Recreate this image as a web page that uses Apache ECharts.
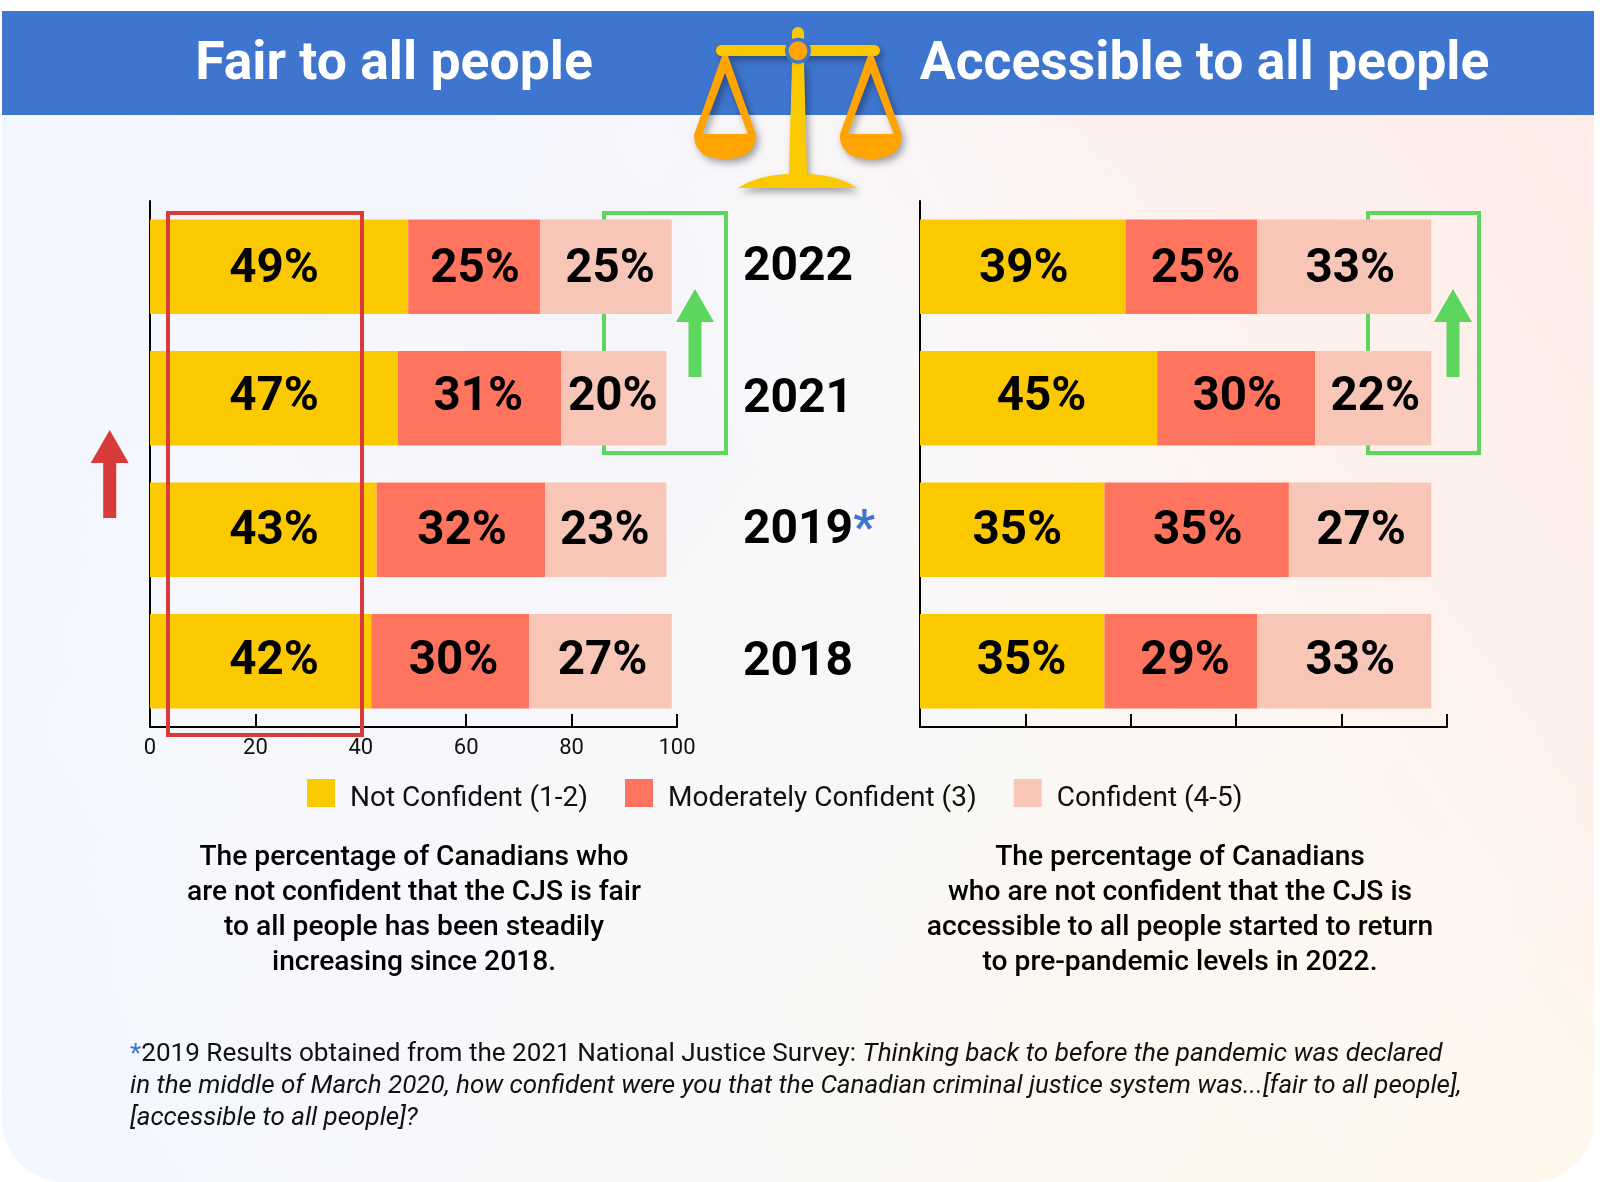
<!DOCTYPE html>
<html><head><meta charset="utf-8">
<style>html,body{margin:0;padding:0;background:#fff}#c{width:1610px;height:1182px}</style>
<script src="https://cdn.jsdelivr.net/npm/echarts@6/dist/echarts.min.js"></script></head>
<body><div id="c"></div>
<script>
const years = ['2022','2021','2019','2018'];
const seriesNames = ['Not Confident (1-2)','Moderately Confident (3)','Confident (4-5)'];
const colors = ['#FBC900','#FF745F','#F8C6B7'];
const fairNot = [49,47,43,42];
const fairMod = [25,31,32,30];
const fairConf = [25,20,23,27];
const accessNot = [39,45,35,35];
const accessMod = [25,30,35,29];
const accessConf = [33,22,27,33];
const titleLeft = 'Fair to all people';
const titleRight = 'Accessible to all people';
const noteLeft = ['The percentage of Canadians who','are not confident that the CJS is fair','to all people has been steadily','increasing since 2018.'];
const noteRight = ['The percentage of Canadians','who are not confident that the CJS is','accessible to all people started to return','to pre-pandemic levels in 2022.'];
// small hand placement of the value labels, which are not quite centred in the original
const rowNudgeY = [3,0,2,1];
const nudgeFairNot = [0,0,0,0];
const nudgeFairMod = [1,-1,1,3];
const nudgeFairConf = [4,-1,-1,2];
const nudgeAccessNot = [1,3,5,9];
const nudgeAccessMod = [4,1,1,4];
const nudgeAccessConf = [6,2,1,6];
const F = 'Roboto';
const chart = echarts.init(document.getElementById('c'));
function xAxis(i,showLabel){return {gridIndex:i,type:'value',min:0,max:100,interval:20,
  axisLine:{show:true,lineStyle:{color:'#000',width:2}},
  axisTick:{show:true,inside:true,length:13,lineStyle:{color:'#000',width:2}},
  splitLine:{show:false},
  axisLabel:{show:showLabel,color:'#111',fontFamily:F,fontSize:22,margin:10,showMinLabel:true,showMaxLabel:true}};}
function yAxis(i,extra){return Object.assign({gridIndex:i,type:'category',inverse:true,data:years,
  axisLine:{show:true,onZero:false,lineStyle:{color:'#000',width:2}},axisTick:{show:false}},extra);}
function bar(name,idx,values,nudge,ci,label){return {name,type:'bar',stack:'s'+idx,xAxisIndex:idx,yAxisIndex:idx,
  data:values.map((v,i)=>({value:v,label:{offset:[nudge[i]*1.03,rowNudgeY[i]*1.03]}})),barWidth:94.5,z:3,
  itemStyle:{color:colors[ci]},
  label:Object.assign({show:true,position:'inside',formatter:'{c}%',color:'#000',fontFamily:F,fontWeight:700,fontSize:47.5},label||{})};}
function multi(lines,cx,y0,lh){return lines.map((t,i)=>({type:'text',z:6,style:{text:t,x:cx,y:y0+i*lh,align:'center',verticalAlign:'middle',font:'500 28.2px Roboto',fill:'#000'}}));}
const shadow={shadowBlur:7,shadowColor:'rgba(0,0,0,0.35)',shadowOffsetX:3,shadowOffsetY:4};
function arrow(cx,tip,base,bottom,halfHead,halfShaft,color){
  return {type:'polygon',z:8,shape:{points:[[cx,tip],[cx+halfHead,base],[cx+halfShaft,base],[cx+halfShaft,bottom],[cx-halfShaft,bottom],[cx-halfShaft,base],[cx-halfHead,base]]},style:{fill:color}};}
function curve(p0,c,p1,n){const pts=[];for(let i=0;i<=n;i++){const t=i/n,u=1-t;pts.push([u*u*p0[0]+2*u*t*c[0]+t*t*p1[0],u*u*p0[1]+2*u*t*c[1]+t*t*p1[1]]);}return pts;}
function pan(dx){
  const a=725+dx;
  const bowl=[...curve([a-31,134],[a-31,159],[a,159],16),...curve([a,159],[a+31,159],[a+31,134],16).slice(1)];
  return [
   {type:'polygon',z:9,shape:{points:[[a-3,56],[a+3,56],[a+31,135],[a+23,134],[a,73],[a-23,134],[a-31,135]]},style:Object.assign({fill:'#FFA400'},shadow)},
   {type:'polygon',z:9,shape:{points:bowl},style:Object.assign({fill:'#FFA400'},shadow)}
  ];
}
const stand=[[792,62],[804,62],[807,174],...curve([807,174],[838,175],[857,188],12).slice(1),...curve([738,188],[758,175],[789,174],12),[792,62]];
const graphics=[
 {type:'rect',z:0,shape:{x:2,y:11,width:1592,height:1171,r:[0,0,62,62]},style:{fill:new echarts.graphic.LinearGradient(0,0,1,1,[{offset:0,color:'#EFF4FF'},{offset:0.5,color:'#F8F7F9'},{offset:1,color:'#FEF8E8'}])}},
 {type:'rect',z:0,shape:{x:2,y:11,width:1592,height:1171,r:[0,0,62,62]},style:{fill:new echarts.graphic.LinearGradient(1,0,0,1,[{offset:0,color:'rgba(255,236,230,0.95)'},{offset:0.22,color:'rgba(255,238,234,0.7)'},{offset:0.5,color:'rgba(255,255,255,0)'},{offset:1,color:'rgba(240,246,255,0.7)'}])}},
 {type:'rect',z:1,shape:{x:2,y:11,width:1592,height:104},style:{fill:'#3E75CE'}},
 {type:'text',z:6,style:{text:titleLeft,x:394,y:66,align:'center',verticalAlign:'middle',font:'700 53.5px Roboto',fill:'#fff'}},
 {type:'text',z:6,style:{text:titleRight,x:1204.5,y:66,align:'center',verticalAlign:'middle',font:'700 53.5px Roboto',fill:'#fff'}},
 {type:'rect',z:1,shape:{x:604,y:213,width:122,height:240},style:{fill:'none',stroke:'#5CD65C',lineWidth:4}},
 {type:'rect',z:1,shape:{x:1368,y:213,width:111,height:240},style:{fill:'none',stroke:'#5CD65C',lineWidth:4}},
 {type:'rect',z:8,shape:{x:168,y:213,width:194,height:522},style:{fill:'none',stroke:'#D93B3B',lineWidth:4}},
 arrow(109.7,430,463,518,19,6.5,'#D93B3B'),
 arrow(695,289,322,377,19,6.5,'#5CD65C'),
 arrow(1453,289,322,377,19,6.5,'#5CD65C'),
 {type:'rect',z:9,shape:{x:792,y:27,width:12,height:16,r:[6,6,0,0]},style:{fill:'#FBC900'}},
 {type:'polygon',z:9,shape:{points:stand},style:Object.assign({fill:'#FBC900'},shadow)},
 {type:'rect',z:9,shape:{x:716,y:45,width:164,height:11,r:5.5},style:Object.assign({fill:'#FBC900'},shadow)},
 ...pan(0),...pan(145.7),
 {type:'circle',z:10,shape:{cx:798,cy:50.7,r:13},style:{fill:'#3E75CE'}},
 {type:'circle',z:11,shape:{cx:798,cy:50.7,r:9.5},style:{fill:'#FFA400'}},
 ...multi(noteLeft,414,858,35),
 ...multi(noteRight,1180,858,35),
 {type:'text',z:6,style:{x:130,y:1054,verticalAlign:'middle',align:'left',text:'{s|*}{n|2019 Results obtained from the 2021 National Justice Survey: }{i|Thinking back to before the pandemic was declared}',rich:{s:{fill:'#3E75CE',font:'400 26.1px Roboto'},n:{fill:'#111',font:'400 26.1px Roboto'},i:{fill:'#111',font:'italic 400 26.1px Roboto'}}}},
 {type:'text',z:6,style:{x:130,y:1086,verticalAlign:'middle',align:'left',text:'in the middle of March 2020, how confident were you that the Canadian criminal justice system was...[fair to all people],',font:'italic 400 26px Roboto',fill:'#111'}},
 {type:'text',z:6,style:{x:130,y:1118,verticalAlign:'middle',align:'left',text:'[accessible to all people]?',font:'italic 400 26px Roboto',fill:'#111'}},
];
const leftYellowLabel={position:[124,'50%'],align:'center',verticalAlign:'middle'};
chart.setOption({
 animation:false,
 grid:[{left:150,top:201,width:527,height:526},{left:920,top:201,width:527,height:526}],
 xAxis:[xAxis(0,true),xAxis(1,false)],
 yAxis:[yAxis(0,{axisLabel:{show:false}}),
   yAxis(1,{axisLabel:{show:true,align:'left',margin:177,color:'#000',fontFamily:F,fontWeight:700,fontSize:48,padding:[3,0,0,0],
     formatter:v=>v==='2019'?v+'{s|*}':v,rich:{s:{color:'#3E75CE',fontFamily:F,fontWeight:700,fontSize:48}}}})],
 legend:{left:307,top:779,padding:0,itemWidth:28,itemHeight:28,itemGap:37,icon:'rect',selectedMode:false,data:seriesNames,
   formatter:n=>'{b| }{a|'+n+'}',
   textStyle:{color:'#111',fontFamily:F,fontSize:28,
     rich:{a:{color:'#111',fontFamily:F,fontSize:28,lineHeight:28,verticalAlign:'bottom'},b:{width:10,height:40,fontSize:1}}}},
 graphic:{elements:graphics},
 series:[
  bar(seriesNames[0],0,fairNot,nudgeFairNot,0,leftYellowLabel),bar(seriesNames[1],0,fairMod,nudgeFairMod,1),bar(seriesNames[2],0,fairConf,nudgeFairConf,2),
  bar(seriesNames[0],1,accessNot,nudgeAccessNot,0),bar(seriesNames[1],1,accessMod,nudgeAccessMod,1),bar(seriesNames[2],1,accessConf,nudgeAccessConf,2)
 ]
});
</script></body></html>
